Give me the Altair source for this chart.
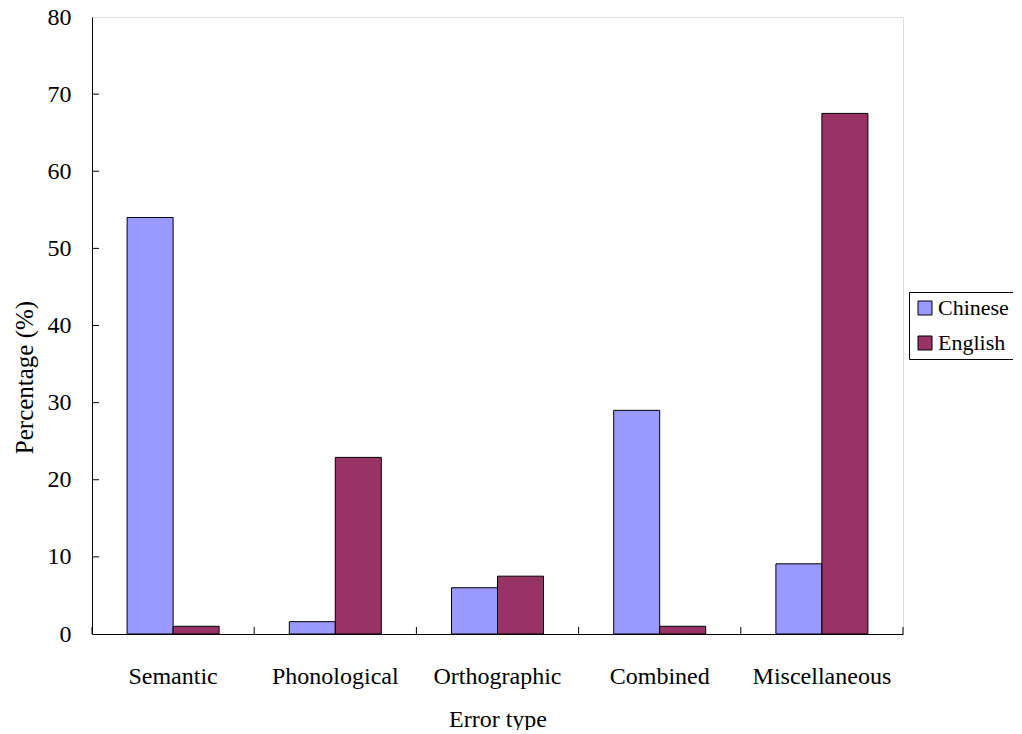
import altair as alt
import pandas as pd

categories = ["Semantic", "Phonological", "Orthographic", "Combined", "Miscellaneous"]
languages = ["Chinese", "English"]
chinese = [54.0, 1.6, 6.0, 29.0, 9.1]
english = [1.0, 22.9, 7.5, 1.0, 67.5]
y_ticks = [0, 10, 20, 30, 40, 50, 60, 70, 80]

rows = []
for c, a, b in zip(categories, chinese, english):
    rows.append({"type": c, "lang": "Chinese", "pct": a})
    rows.append({"type": c, "lang": "English", "pct": b})
df = pd.DataFrame(rows)

W, H = 811, 617
FONT = "Liberation Serif"

x_scale = alt.Scale(domain=categories, paddingInner=0, paddingOuter=0)
y_scale = alt.Scale(domain=[0, 80], nice=False)

bars = alt.Chart(df).mark_bar(stroke="black", strokeWidth=1).encode(
    x=alt.X("type:N", scale=x_scale, sort=categories,
            axis=alt.Axis(title="Error type", labelAngle=0, ticks=False, tickSize=0,
                          labelPadding=30, labelFontSize=24,
                          titleFontSize=24, labelFont=FONT, titleFont=FONT,
                          titleY=92, titleBaseline="alphabetic",
                          labelColor="black", titleColor="black", titleFontWeight="normal",
                          domainColor="black", grid=False)),
    xOffset=alt.XOffset("lang:N", sort=languages,
                        scale=alt.Scale(domain=languages, paddingInner=0, paddingOuter=0.763)),
    y=alt.Y("pct:Q", scale=y_scale,
            axis=alt.Axis(title="Percentage (%)", values=y_ticks, ticks=False, tickSize=0,
                          labelPadding=21, labelFontSize=24,
                          titleFontSize=25, labelFont=FONT, titleFont=FONT,
                          titleX=-55, titleY=360, titleBaseline="bottom", titleAngle=270,
                          labelColor="black", titleColor="black", titleFontWeight="normal",
                          domainColor="black", grid=False)),
    color=alt.Color("lang:N", scale=alt.Scale(domain=languages, range=["#9999FF", "#993366"]),
                    legend=alt.Legend(title=None, orient="none", legendX=817, legendY=275,
                                      padding=5, strokeColor="black", symbolType="square",
                                      symbolSize=196, symbolStrokeColor="black",
                                      symbolStrokeWidth=1, labelFont=FONT, labelFontSize=22,
                                      labelColor="black", labelOffset=2, rowPadding=13)),
)

xt = pd.DataFrame({"type": categories})
x_ticks_rule = alt.Chart(xt).mark_rule(color="black", strokeWidth=1).encode(
    x=alt.X("type:N", scale=x_scale, sort=categories, bandPosition=0),
    y=alt.value(H - 7), y2=alt.value(H),
)
x_ticks_end = alt.Chart(pd.DataFrame({"type": categories[-1:]})).mark_rule(
    color="black", strokeWidth=1).encode(
    x=alt.X("type:N", scale=x_scale, sort=categories, bandPosition=1),
    y=alt.value(H - 7), y2=alt.value(H),
)
y_ticks_rule = alt.Chart(pd.DataFrame({"v": y_ticks[1:-1]})).mark_rule(
    color="black", strokeWidth=1).encode(
    y=alt.Y("v:Q", scale=y_scale),
    x=alt.value(0), x2=alt.value(7),
)

chart = alt.layer(bars, x_ticks_rule, x_ticks_end, y_ticks_rule).properties(
    width=W, height=H,
    padding={"left": 84, "top": 9, "right": 110, "bottom": 96},
    autosize=alt.AutoSizeParams(type="none"),
).configure_view(stroke="#808080", strokeWidth=1).configure(background="white")

chart.save("out.html", embed_options={"renderer": "svg", "actions": False})
